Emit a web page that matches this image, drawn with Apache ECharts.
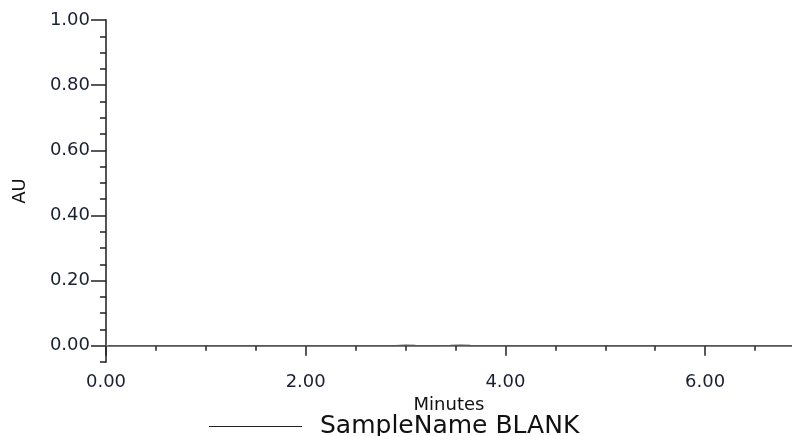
<!DOCTYPE html>
<html>
<head>
<meta charset="utf-8">
<script src="https://cdn.jsdelivr.net/npm/echarts@6/dist/echarts.min.js"></script>
<style>
  html, body { margin: 0; padding: 0; background: #fff; }
  #chart-container { width: 792px; height: 436px; }
</style>
</head>
<body>
<div id="chart-container"></div>
<script>
// chromatogram trace (minutes, AU) - flat baseline for the blank
var minutes = [0.02, 0.25, 0.5, 0.75, 1.0, 1.25, 1.5, 1.75, 2.0, 2.25, 2.5, 2.75, 2.9, 3.0, 3.1, 3.25, 3.45, 3.55, 3.65, 3.75, 4.0, 4.25, 4.5, 4.75, 5.0, 5.25, 5.5, 5.75, 6.0, 6.25, 6.5, 6.75, 6.87];
var absorbance = [0.0, 0.0005, 0.0003, 0.0, 0.0002, 0.0, 0.0001, 0.0003, 0.0, 0.0001, 0.0, 0.0002, 0.0004, 0.0015, 0.0006, 0.0003, 0.0008, 0.002, 0.0007, 0.0003, 0.0, 0.0002, 0.0, 0.0001, 0.0002, 0.0, 0.0001, 0.0003, 0.0001, 0.0, 0.0002, 0.0001, 0.0];
var xTicks = [0, 2, 4, 6];
var yTicks = [0, 0.2, 0.4, 0.6, 0.8, 1.0];
var seriesName = "SampleName BLANK";

var dom = document.getElementById("chart-container");
var myChart = echarts.init(dom, null, { renderer: "canvas" });

var textColor = "#1a1f33";
var font = "DejaVu Sans";

var points = minutes.map(function (m, i) {
  return [m, absorbance[i]];
});

var option = {
  animation: false,
  backgroundColor: "#fff",
  grid: { left: 106, top: 20, right: 0, bottom: 74 },
  legend: {
    data: [seriesName],
    bottom: -8,
    left: 204,
    itemWidth: 93,
    itemHeight: 10,
    icon: "path://M0,5L100,5L100,6.2L0,6.2Z",
    itemStyle: { color: "#222" },
    textStyle: { fontFamily: font, fontSize: 25, color: "#111", padding: [0, 0, 0, 13] }
  },
  xAxis: [
    {
      type: "value",
      min: 0,
      max: 6.87,
      interval: 2,
      name: "Minutes",
      nameLocation: "middle",
      nameGap: 33,
      nameTextStyle: { fontFamily: font, fontSize: 18, color: "#111" },
      axisLine: { lineStyle: { color: "#555", width: 2 } },
      axisTick: { customValues: xTicks, length: 10, lineStyle: { color: "#222", width: 1.5 } },
      minorTick: { show: true, splitNumber: 4, length: 5, lineStyle: { color: "#222", width: 1.5 } },
      axisLabel: {
        customValues: xTicks,
        margin: 11,
        fontFamily: font,
        fontSize: 18,
        color: textColor,
        formatter: function (v) { return v.toFixed(2); }
      },
      splitLine: { show: false }
    },
    {
      type: "value",
      position: "top",
      min: 0,
      max: 6.87,
      axisLine: { show: true, lineStyle: { color: "#888", width: 2 } },
      axisTick: { show: false },
      axisLabel: { show: false },
      splitLine: { show: false }
    }
  ],
  yAxis: [
    {
      type: "value",
      min: -0.05,
      max: 1.0,
      interval: 0.05,
      name: "AU",
      nameLocation: "middle",
      nameGap: 77,
      nameTextStyle: { fontFamily: font, fontSize: 18, color: "#111" },
      axisLine: { show: true, lineStyle: { color: "#555", width: 2 } },
      axisTick: { customValues: yTicks, length: 15, lineStyle: { color: "#222", width: 1.5 } },
      axisLabel: {
        customValues: yTicks,
        margin: 16,
        fontFamily: font,
        fontSize: 18,
        color: textColor,
        formatter: function (v) { return v.toFixed(2); }
      },
      splitLine: { show: false }
    },
    {
      type: "value",
      min: -0.05,
      max: 1.0,
      interval: 0.05,
      position: "left",
      axisLine: { show: false },
      axisTick: { show: true, length: 6, lineStyle: { color: "#222", width: 1.5 } },
      axisLabel: { show: false },
      splitLine: { show: false }
    }
  ],
  series: [
    {
      name: seriesName,
      type: "line",
      xAxisIndex: 0,
      yAxisIndex: 0,
      data: points,
      showSymbol: false,
      lineStyle: { color: "#555", width: 1.3 },
      itemStyle: { color: "#222" }
    }
  ]
};

myChart.setOption(option);
window.addEventListener("resize", myChart.resize);
</script>
</body>
</html>
